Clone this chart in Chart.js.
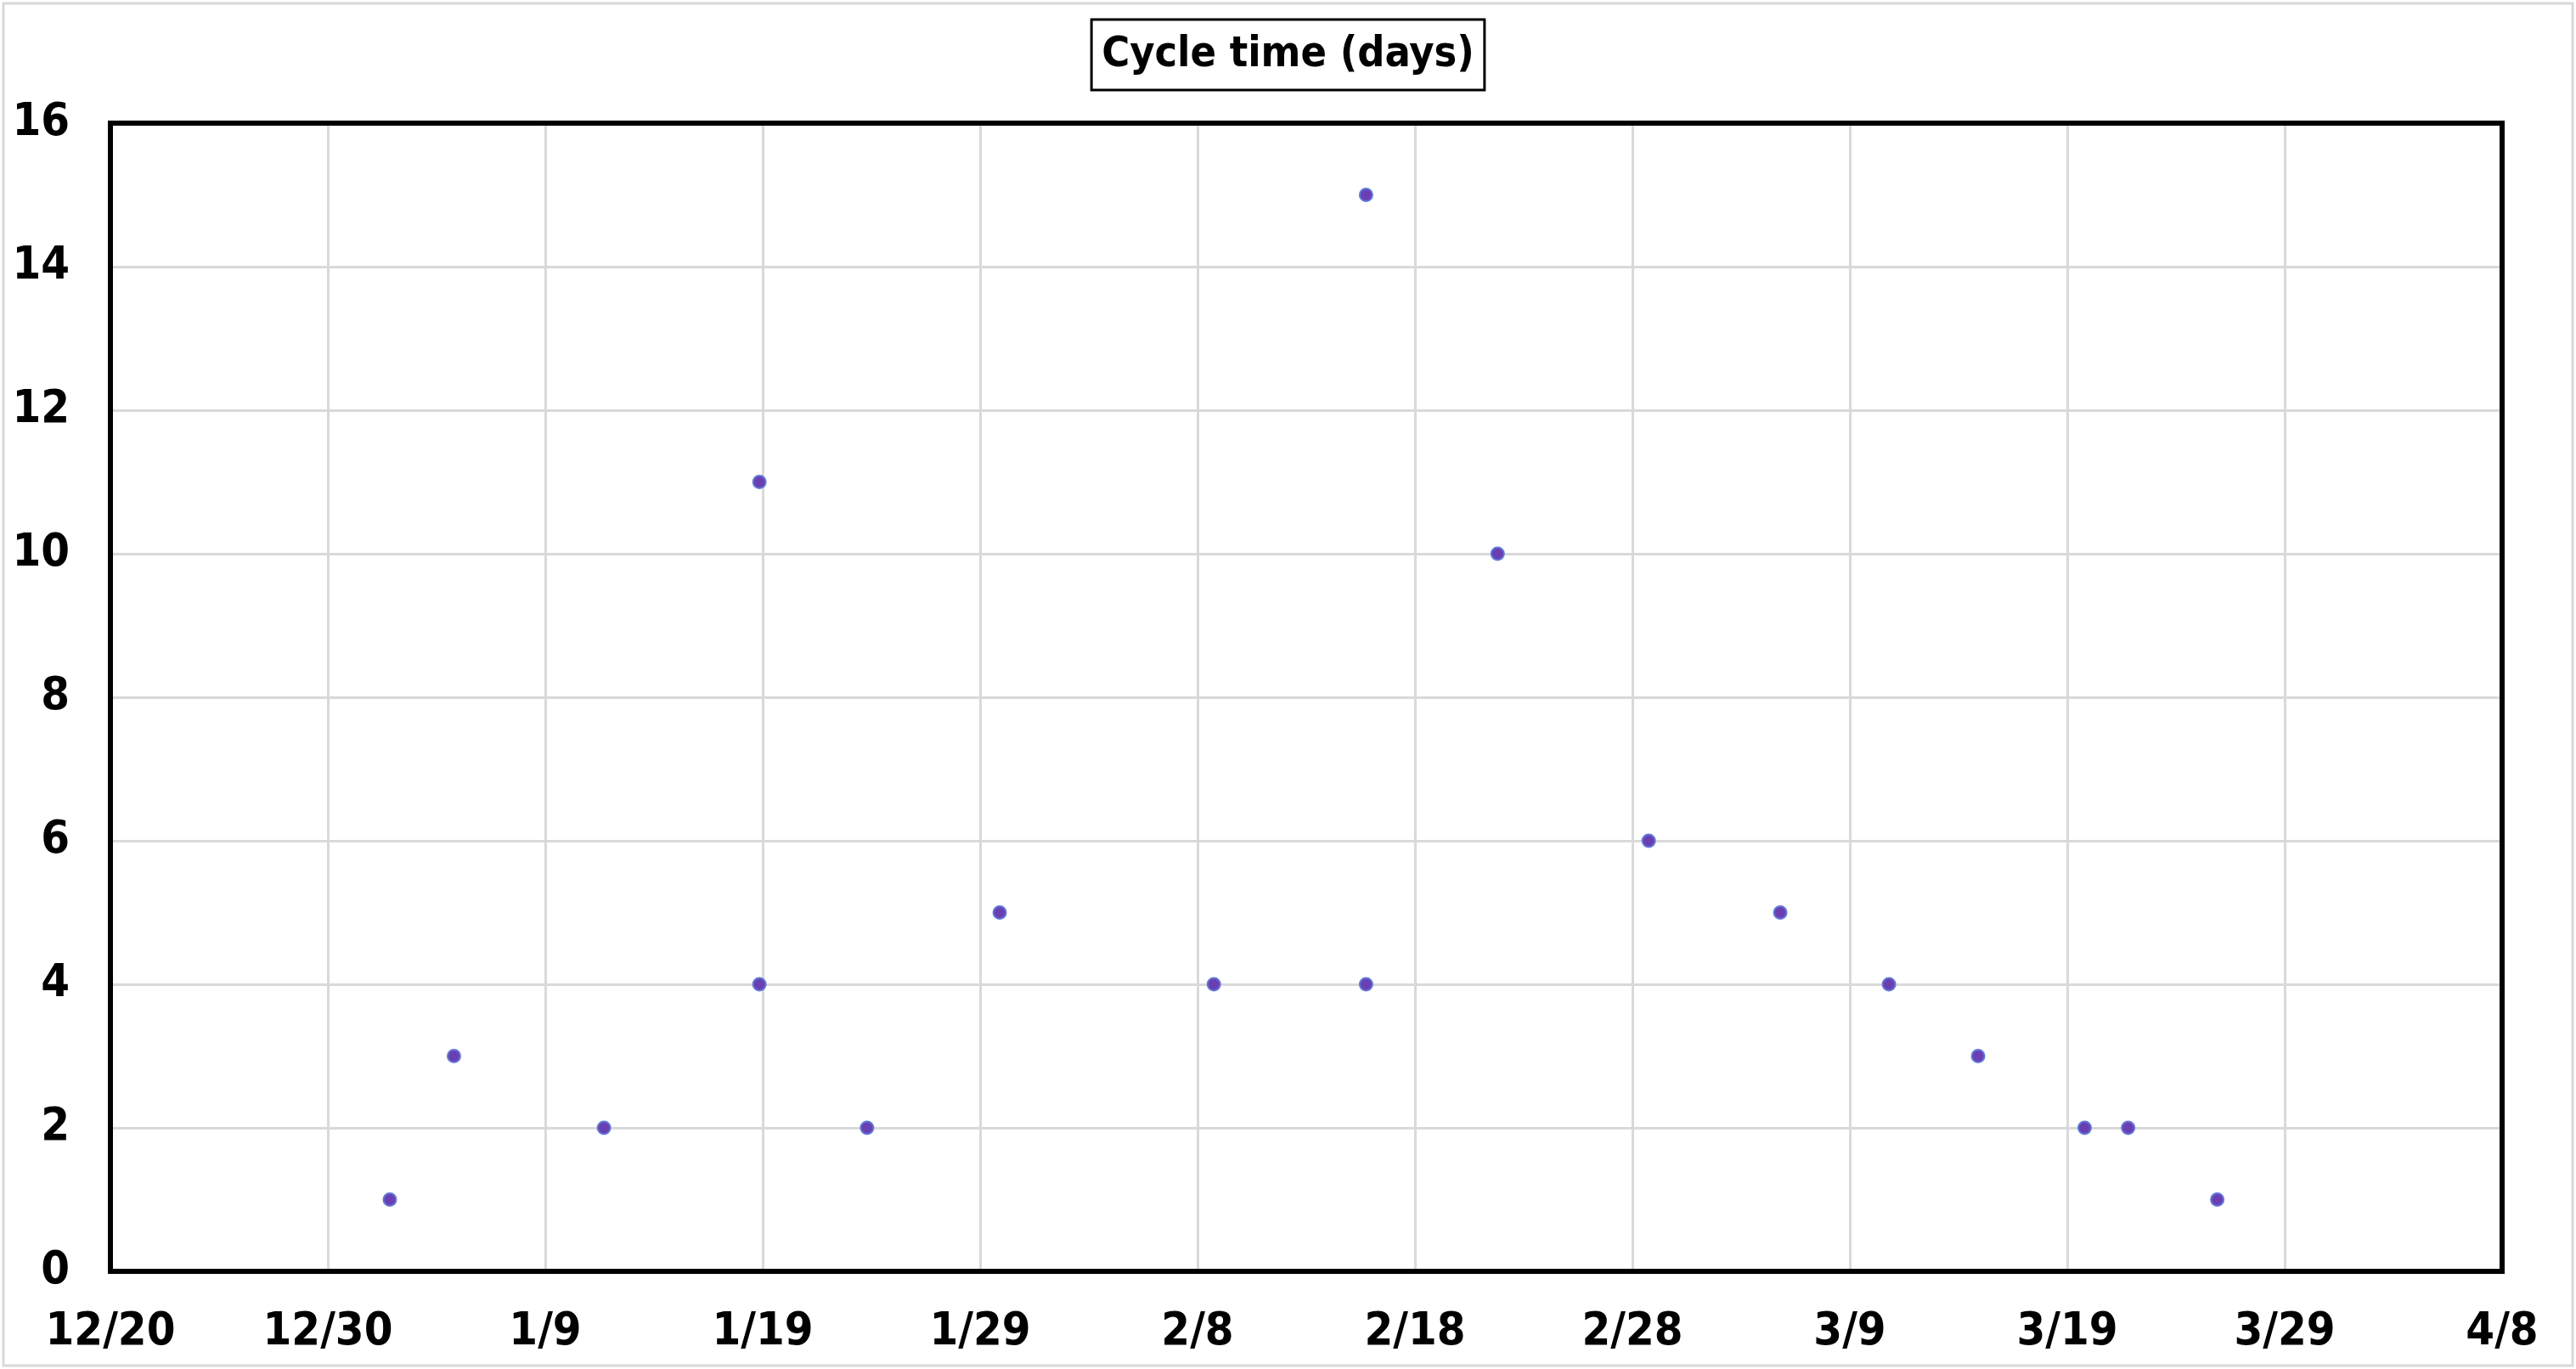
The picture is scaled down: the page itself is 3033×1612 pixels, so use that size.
<!DOCTYPE html>
<html>
<head>
<meta charset="utf-8">
<script src="https://cdn.jsdelivr.net/npm/chart.js@4"></script>
<style>
  body { margin: 0; background: #fff; }
</style>
</head>
<body>
<canvas id="scatter" width="3033" height="1612"></canvas>
<script>
// tick labels, one every 10 days starting 12/20
const dateTicks = ['12/20', '12/30', '1/9', '1/19', '1/29', '2/8', '2/18', '2/28', '3/9', '3/19', '3/29', '4/8'];
// days after 12/20
const dayOffsets = [12.85, 15.8, 22.7, 29.85, 29.85, 34.8, 40.9, 50.75, 57.75, 57.75, 63.8, 70.75, 76.8, 81.8, 85.9, 90.8, 92.8, 96.9];
const cycleDays = [1, 3, 2, 11, 4, 2, 5, 4, 15, 4, 10, 6, 5, 4, 3, 2, 2, 1];
const chartTitle = 'Cycle time (days)';

const fontFamily = "'Liberation Sans Narrow', 'DejaVu Sans Condensed', sans-serif";
const tickFont = { family: fontFamily, size: 54, weight: 'bold' };

// boxed title centred on the page, black frame around the plot, grey frame round the picture
const frames = {
    id: 'frames',
    afterDraw(chart) {
        const ctx = chart.ctx;
        const a = chart.chartArea;
        ctx.save();
        ctx.strokeStyle = '#d9d9d9';
        ctx.lineWidth = 3;
        ctx.strokeRect(4, 4, chart.width - 8, chart.height - 8);

        ctx.strokeStyle = '#000';
        ctx.lineWidth = 6;
        ctx.strokeRect(a.left, a.top, a.right - a.left, a.bottom - a.top);

        ctx.font = 'bold 50px ' + fontFamily;
        ctx.fillStyle = '#000';
        ctx.textAlign = 'center';
        ctx.textBaseline = 'middle';
        const cx = chart.width / 2;
        ctx.fillText(chartTitle, cx, 65);
        const w = ctx.measureText(chartTitle).width;
        ctx.lineWidth = 3;
        ctx.strokeRect(cx - w / 2 - 12, 23, w + 24, 83);
        ctx.restore();
    }
};

const ctx = document.getElementById('scatter').getContext('2d');
const myChart = new Chart(ctx, {
    type: 'scatter',
    data: {
        datasets: [{
            label: 'Cycle time',
            data: dayOffsets.map((d, i) => ({ x: d, y: cycleDays[i] })),
            backgroundColor: '#6a3fb4',
            borderColor: '#6278d6',
            borderWidth: 2,
            pointRadius: 7.5,
            pointHoverRadius: 7.5
        }]
    },
    options: {
        responsive: false,
        animation: false,
        devicePixelRatio: 1,
        layout: {
            padding: { left: 0, right: 87, top: 145, bottom: 0 }
        },
        plugins: {
            legend: { display: false },
            tooltip: { enabled: false },
            title: { display: false }
        },
        scales: {
            x: {
                type: 'linear',
                min: 0,
                max: 110,
                afterFit: (scale) => { scale.height = 115; },
                grid: { color: '#d9d9d9', lineWidth: 3, drawTicks: false },
                border: { display: false },
                ticks: {
                    stepSize: 10,
                    padding: 40,
                    color: '#000',
                    font: tickFont,
                    maxRotation: 0,
                    autoSkip: false,
                    callback: (v) => dateTicks[Math.round(v / 10)]
                }
            },
            y: {
                min: 0,
                max: 16,
                afterFit: (scale) => { scale.width = 130; },
                grid: { color: '#d9d9d9', lineWidth: 3, drawTicks: false },
                border: { display: false },
                ticks: {
                    stepSize: 2,
                    padding: 48,
                    color: '#000',
                    font: tickFont
                }
            }
        }
    },
    plugins: [frames]
});
</script>
</body>
</html>
